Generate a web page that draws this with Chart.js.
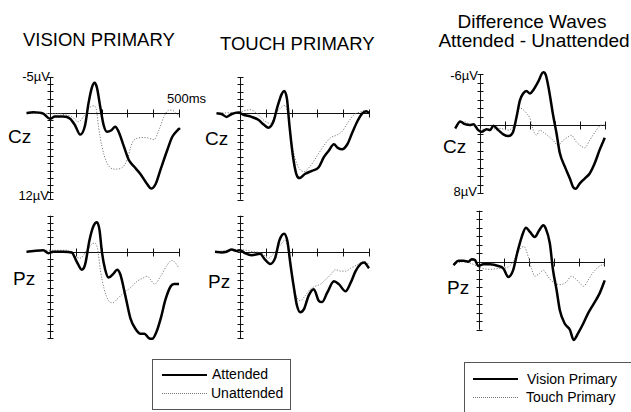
<!DOCTYPE html>
<html>
<head>
<meta charset="utf-8">
<script src="https://cdn.jsdelivr.net/npm/chart.js@4/dist/chart.umd.min.js"></script>
<style>
  html, body { margin: 0; padding: 0; background: #fff; }
  body { width: 631px; height: 412px; position: relative; overflow: hidden;
         font-family: "Liberation Sans", Arial, Helvetica, sans-serif; color: #000; }
  .t { position: absolute; white-space: nowrap; line-height: 1; }
  canvas { position: absolute; }
  .box { position: absolute; border: 1px solid #555; box-sizing: border-box; }
  .solid { position: absolute; height: 0; border-top: 2.5px solid #000; }
  .dotted { position: absolute; height: 0; border-top: 1px dotted #777; }
</style>
</head>
<body>

<div class="t" style="left:23px;top:31px;font-size:18.5px">VISION PRIMARY</div>
<div class="t" style="left:220px;top:35px;font-size:18.5px">TOUCH PRIMARY</div>
<div class="t" style="left:532px;top:12px;font-size:19px;transform:translateX(-50%)">Difference Waves</div>
<div class="t" style="left:534px;top:31px;font-size:19px;transform:translateX(-50%)">Attended - Unattended</div>

<div class="t" style="left:8px;top:127px;font-size:19px">Cz</div>
<div class="t" style="left:205px;top:129px;font-size:19px">Cz</div>
<div class="t" style="left:13px;top:269px;font-size:19px">Pz</div>
<div class="t" style="left:208px;top:272px;font-size:19px">Pz</div>
<div class="t" style="left:443px;top:137px;font-size:19px">Cz</div>
<div class="t" style="left:447px;top:278px;font-size:19px">Pz</div>

<div class="t" style="right:581px;top:70px;font-size:13px">-5µV</div>
<div class="t" style="right:582px;top:189px;font-size:13px">12µV</div>
<div class="t" style="left:167px;top:92px;font-size:13px">500ms</div>
<div class="t" style="right:153px;top:69px;font-size:13px">-6µV</div>
<div class="t" style="right:154px;top:185px;font-size:13px">8µV</div>

<div class="box" style="left:152px;top:359px;width:139px;height:51px"></div>
<div class="solid" style="left:162px;top:374px;width:45px"></div>
<div class="t" style="left:212px;top:367px;font-size:14px">Attended</div>
<div class="dotted" style="left:162px;top:393px;width:45px"></div>
<div class="t" style="left:211px;top:386px;font-size:14px">Unattended</div>

<div class="box" style="left:464px;top:362px;width:200px;height:80px"></div>
<div class="solid" style="left:473px;top:378px;width:45px"></div>
<div class="t" style="left:527px;top:372px;font-size:14px">Vision Primary</div>
<div class="dotted" style="left:473px;top:397px;width:45px"></div>
<div class="t" style="left:526px;top:390px;font-size:14px">Touch Primary</div>

<script>
// Time ticks on the horizontal axis (ms)
const timeTicks = [100, 200, 300, 400, 500];

// Grand-average waveforms: [time in ms, amplitude in µV] (negative plotted up)
const visionCzAttended = [[-91,0],[-65,-0.1],[-26,0.1],[0,0.8],[19,0.5],[52,0.5],[78,0.8],[97,1.7],[117,3.0],[136,1.7],[149,-1.3],[162,-3.5],[173,-4.2],[182,-3.5],[195,-0.8],[208,1.7],[221,2.6],[238,2.4],[253,1.9],[266,2.6],[286,4.6],[305,6.5],[325,7.4],[351,8.5],[377,9.9],[392,10.5],[409,9.9],[429,7.8],[455,5.1],[474,3.3],[494,2.4],[504,2.1]];
const visionCzUnattended = [[-91,0],[0,0.1],[32,0.1],[65,0.3],[84,0.5],[110,1.2],[130,0.5],[149,-0.6],[169,-1.0],[179,-0.6],[188,1.9],[201,4.6],[218,6.7],[234,7.6],[253,7.8],[279,7.6],[299,6.5],[318,4.2],[338,3.5],[364,3.4],[383,3.5],[403,3.7],[422,2.4],[442,0.5],[461,-0.4],[474,-0.4],[487,0],[500,0.3]];

const visionPzAttended = [[-91,0],[-65,-0.1],[-26,-0.2],[-6,0.2],[13,0],[52,0],[84,0.1],[104,1.4],[123,2.5],[136,1.8],[153,-1.6],[169,-3.6],[182,-4.1],[192,-3.0],[201,0],[214,2.5],[227,3.6],[247,3.0],[260,2.5],[273,3.2],[292,6.1],[312,9.3],[331,10.7],[351,11.4],[366,11.4],[383,12.0],[396,12.1],[413,11.1],[429,9.3],[448,6.6],[468,4.8],[481,4.5],[500,4.5]];
const visionPzUnattended = [[-91,0],[0,-0.2],[65,-0.2],[91,0.5],[117,0.9],[143,-0.2],[171,-1.2],[184,-0.5],[195,2.5],[210,5.2],[227,6.8],[244,7.1],[260,6.6],[286,5.7],[312,5.0],[338,4.1],[364,3.6],[377,3.4],[390,3.9],[405,4.5],[429,3.4],[455,1.8],[474,1.2],[487,1.6],[500,2.3]];

const touchCzAttended = [[-91,0],[-71,0.1],[-52,0.5],[-32,0.1],[-6,-0.1],[13,0.2],[45,0.5],[71,0.9],[93,1.6],[110,2.0],[130,1.1],[145,-0.9],[162,-2.7],[171,-3.1],[182,-2.0],[192,1.8],[205,5.9],[218,8.4],[231,9.0],[253,8.4],[279,8.0],[305,7.5],[325,6.1],[344,5.2],[364,4.3],[379,4.8],[396,5.0],[416,4.3],[435,2.7],[455,1.1],[474,0],[490,-0.3],[500,0]];
const touchCzUnattended = [[-91,0],[0,-0.2],[39,-0.5],[65,0],[97,1.1],[117,1.4],[140,0],[162,-0.9],[175,-1.1],[186,0.2],[195,2.7],[208,5.5],[227,7.5],[247,8.1],[273,7.3],[299,5.9],[325,4.5],[351,3.4],[377,3.0],[396,2.5],[416,1.4],[442,0.2],[468,-0.2],[487,-0.4],[500,-0.1]];

const touchPzAttended = [[-97,0],[-71,0.1],[-52,0],[-32,-0.3],[-13,-0.1],[0,-0.2],[19,0.2],[45,0.5],[78,0.3],[97,1.1],[117,1.7],[136,0.9],[153,-1.6],[171,-2.5],[184,-1.4],[195,1.6],[208,4.8],[221,7.5],[234,8.4],[249,7.9],[266,6.1],[286,5.2],[305,6.8],[318,7.0],[338,5.7],[364,4.1],[383,4.5],[409,5.5],[429,4.3],[448,2.7],[468,1.7],[481,1.5],[500,2.3]];
const touchPzUnattended = [[-97,0],[0,-0.3],[52,0],[84,0.2],[110,0.9],[136,0],[156,-0.9],[175,-1.6],[188,0],[201,3.4],[218,6.1],[234,6.8],[253,6.1],[273,5.2],[292,4.8],[312,4.5],[331,3.9],[351,3.2],[370,2.5],[390,2.7],[409,2.7],[429,2.3],[455,1.8],[474,1.4],[487,1.4],[500,1.8]];

const diffCzVision = [[-99,0.4],[-79,-0.4],[-60,-0.1],[-40,0],[-26,-0.1],[-7,0.6],[7,0.8],[26,0.5],[40,0.6],[53,0.1],[73,0.6],[93,1.1],[113,1.3],[132,0.8],[146,-1.0],[159,-2.9],[172,-3.7],[185,-4.0],[199,-3.7],[212,-4.1],[232,-5.1],[252,-6.2],[262,-5.9],[275,-4.1],[291,-1.2],[305,1.0],[318,3.3],[338,4.9],[358,6.3],[371,7.3],[381,7.5],[397,6.9],[417,6.3],[437,5.7],[457,4.5],[477,2.9],[497,1.5]];
const diffCzTouch = [[-99,0.2],[-66,-0.4],[-40,-0.1],[0,0.5],[40,0.5],[79,0.4],[113,0.6],[139,-0.2],[159,-2.0],[172,-1.8],[185,-1.4],[199,-0.8],[212,0.6],[225,1.2],[238,0.6],[254,0.9],[272,1.3],[291,1.8],[311,2.4],[331,1.8],[351,1.4],[364,1.2],[384,2.0],[404,2.5],[417,2.7],[437,1.8],[464,0.6],[483,0],[497,0]];

const diffPzVision = [[-102,0.4],[-82,-0.1],[-62,-0.1],[-42,0],[-29,-0.3],[-16,-0.2],[-3,0.5],[17,0.3],[44,0.3],[77,0.5],[97,0.8],[117,1.8],[136,1.0],[152,-1.0],[170,-2.9],[187,-4.0],[203,-3.5],[222,-2.9],[240,-3.7],[256,-4.3],[266,-3.9],[282,-2.2],[295,1.0],[309,3.3],[322,5.7],[342,7.3],[362,8.0],[377,9.2],[395,8.4],[415,7.3],[434,6.1],[454,5.1],[481,3.7],[501,2.2]];
const diffPzTouch = [[-102,0.3],[-62,0],[-23,0.3],[4,0.7],[44,0.9],[77,0.8],[110,0.7],[136,0],[156,-1.2],[179,-1.8],[196,-0.6],[209,0.8],[222,1.7],[240,1.4],[256,1.0],[276,1.8],[295,2.4],[322,2.7],[348,2.4],[368,1.7],[385,2.0],[401,2.5],[417,2.9],[434,2.2],[454,1.3],[481,0.5],[501,0.3]];

// Draws the ERP-style axes: a vertical amplitude axis at stimulus onset with
// 1 µV ticks, and a horizontal time axis along 0 µV with 100 ms ticks.
const erpAxes = {
  id: 'erpAxes',
  beforeDatasetsDraw(chart, args, opts) {
    const { ctx } = chart;
    const xs = chart.scales.x, ys = chart.scales.y;
    const px0 = Math.round(xs.getPixelForValue(0)) + 0.5;
    const py0 = Math.round(ys.getPixelForValue(0)) + 0.5;
    ctx.save();
    ctx.strokeStyle = '#111';
    ctx.lineWidth = 1;
    ctx.beginPath();
    ctx.moveTo(px0, ys.getPixelForValue(opts.top));
    ctx.lineTo(px0, ys.getPixelForValue(opts.bottom));
    for (let v = opts.top; v <= opts.bottom; v++) {
      const py = Math.round(ys.getPixelForValue(v)) + 0.5;
      ctx.moveTo(px0 - 3, py);
      ctx.lineTo(px0 + 3, py);
    }
    ctx.moveTo(px0, py0);
    ctx.lineTo(xs.getPixelForValue(timeTicks[timeTicks.length - 1]), py0);
    timeTicks.forEach(t => {
      const px = Math.round(xs.getPixelForValue(t)) + 0.5;
      ctx.moveTo(px, py0 - 4);
      ctx.lineTo(px, py0 + 4);
    });
    ctx.stroke();
    ctx.restore();
  }
};

// Panel placement: pixel of (0 ms, 0 µV), px per ms, px per µV, axis extent
const panels = [
  { solid: visionCzAttended, dotted: visionCzUnattended, x0: 50,  y0: 113,   kx: 0.258, ky: 7.2, top: -5, bottom: 12 },
  { solid: visionPzAttended, dotted: visionPzUnattended, x0: 50,  y0: 251.7, kx: 0.258, ky: 7.2, top: -5, bottom: 12 },
  { solid: touchCzAttended,  dotted: touchCzUnattended,  x0: 240, y0: 113.3, kx: 0.258, ky: 7.2, top: -5, bottom: 12 },
  { solid: touchPzAttended,  dotted: touchPzUnattended,  x0: 240, y0: 251.7, kx: 0.258, ky: 7.2, top: -5, bottom: 12 },
  { solid: diffCzVision,     dotted: diffCzTouch,        x0: 480, y0: 125,   kx: 0.251, ky: 8.5, top: -6, bottom: 8 },
  { solid: diffPzVision,     dotted: diffPzTouch,        x0: 479, y0: 261.7, kx: 0.251, ky: 8.5, top: -6, bottom: 8 }
];

const toXY = arr => arr.map(([x, y]) => ({ x, y }));

panels.forEach(p => {
  const values = p.solid.concat(p.dotted).map(d => d[1]);
  const vTop = Math.min(p.top, ...values) - 1;
  const vBottom = Math.max(p.bottom, ...values) + 1;
  const left = Math.round(p.x0 - 115 * p.kx);
  const width = Math.round(630 * p.kx);
  const topPx = Math.round(p.y0 + vTop * p.ky);
  const height = Math.round((vBottom - vTop) * p.ky);
  const xMin = (left - p.x0) / p.kx;
  const xMax = xMin + width / p.kx;
  const yMin = (topPx - p.y0) / p.ky;
  const yMax = yMin + height / p.ky;

  const c = document.createElement('canvas');
  c.width = width; c.height = height;
  c.style.left = left + 'px'; c.style.top = topPx + 'px';
  c.style.width = width + 'px'; c.style.height = height + 'px';
  document.body.appendChild(c);

  new Chart(c, {
    type: 'line',
    data: {
      datasets: [
        { data: toXY(p.solid), borderColor: '#000', borderWidth: 2.5, pointRadius: 0,
          cubicInterpolationMode: 'monotone', fill: false },
        { data: toXY(p.dotted), borderColor: '#7a7a7a', borderWidth: 1, borderDash: [1.2, 1.6],
          pointRadius: 0, cubicInterpolationMode: 'monotone', fill: false }
      ]
    },
    options: {
      responsive: false,
      animation: false,
      events: [],
      layout: { padding: 0, autoPadding: false },
      plugins: {
        legend: { display: false },
        tooltip: { enabled: false },
        erpAxes: { top: p.top, bottom: p.bottom }
      },
      scales: {
        x: { type: 'linear', min: xMin, max: xMax, display: false },
        y: { type: 'linear', min: yMin, max: yMax, reverse: true, display: false }
      }
    },
    plugins: [erpAxes]
  });
});
</script>
</body>
</html>
